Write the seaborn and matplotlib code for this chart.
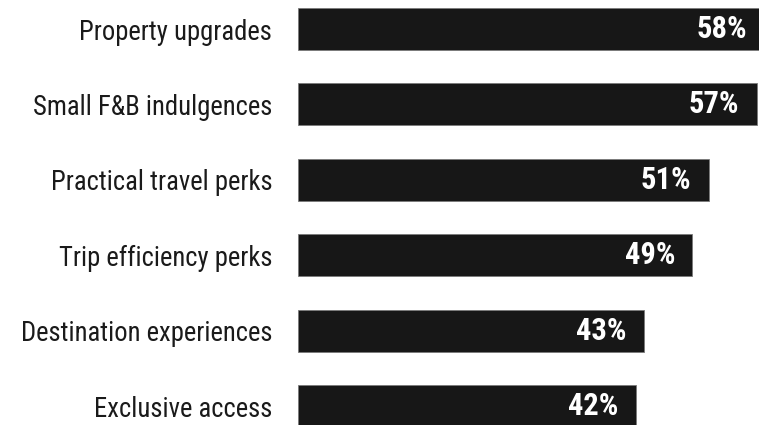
import numpy as np
import pandas as pd
import seaborn as sns
import matplotlib.pyplot as plt

# survey share per perk category
categories = ['Property upgrades', 'Small F&B indulgences', 'Practical travel perks',
              'Trip efficiency perks', 'Destination experiences', 'Exclusive access']
values = [58, 57, 51, 49, 43, 42]

df = pd.DataFrame({'category': categories, 'value': values})

sns.set_style('white')
plt.rcParams['font.family'] = ['Liberation Sans Narrow', 'Roboto Condensed', 'DejaVu Sans']

fig = plt.figure(figsize=(7.59, 4.25), dpi=100)
ax = fig.add_axes([298 / 759, 0, 1 - 298 / 759, 1])

sns.barplot(data=df, x='value', y='category', orient='h', color='#171717',
            width=0.557, edgecolor='#7a7a7a', linewidth=0.6, saturation=1, ax=ax)

ax.set_xlim(0, 57.27)
ax.set_ylim(5.25, -0.385)
ax.set_xlabel('')
ax.set_ylabel('')
ax.set_xticks([])
ax.tick_params(axis='y', length=0, pad=18.5, labelsize=19.2, labelcolor='#1a1a1a')
sns.despine(ax=ax, left=True, bottom=True, top=True, right=True)

# value labels inside bar ends
for i, v in enumerate(values):
    ax.annotate(f'{v}%', xy=(v, i), xytext=(-12.5, 0), textcoords='offset points',
                ha='right', va='center', color='white', fontsize=22, fontweight='bold',
                annotation_clip=False)

fig.savefig('out.png', dpi=100)
